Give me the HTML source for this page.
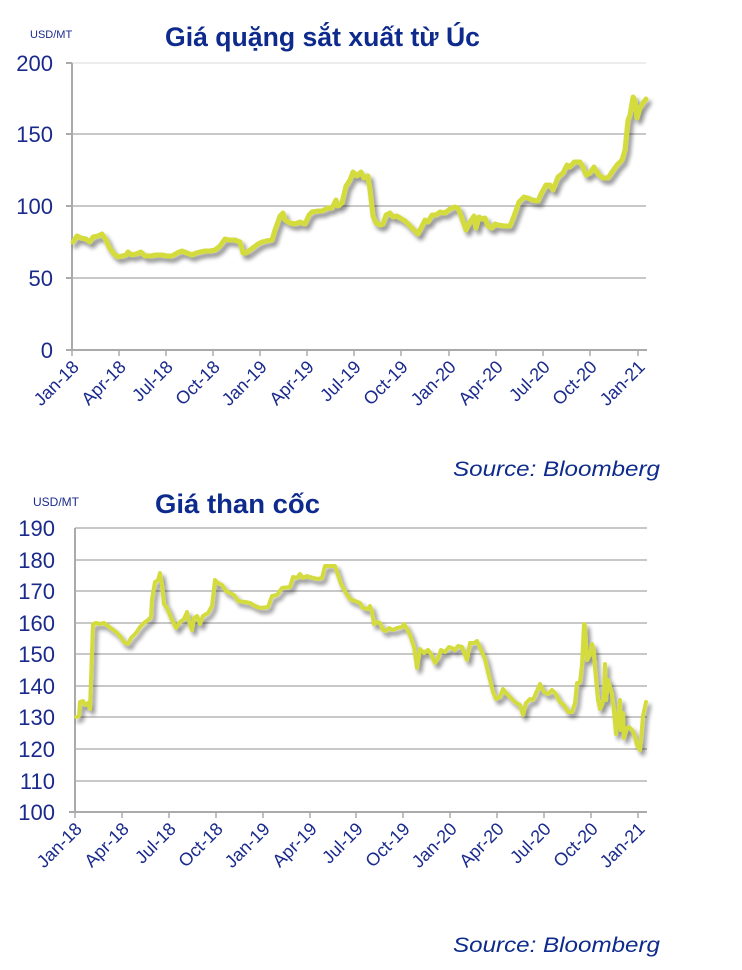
<!DOCTYPE html>
<html><head><meta charset="utf-8"><style>
html,body{margin:0;padding:0;background:#fff;width:742px;height:970px;overflow:hidden}
svg{display:block}
</style></head><body>
<svg width="742" height="970" xmlns="http://www.w3.org/2000/svg" font-family="Liberation Sans, sans-serif">
<defs>
<filter id="sh" x="-5%" y="-5%" width="110%" height="120%">
<feGaussianBlur in="SourceAlpha" stdDeviation="2"/>
<feOffset dx="3" dy="4" result="b"/>
<feComponentTransfer><feFuncA type="linear" slope="0.45"/></feComponentTransfer>
<feMerge><feMergeNode/><feMergeNode in="SourceGraphic"/></feMerge>
</filter>
</defs>
<!-- Chart 1 -->
<text x="30" y="38" font-size="11" fill="#1a2a8c">USD/MT</text>
<text x="165" y="46" font-size="27" font-weight="bold" fill="#0d2a8c" textLength="315" lengthAdjust="spacingAndGlyphs">Giá quặng sắt xuất từ Úc</text>
<g stroke="#e6e6e6" stroke-width="1.5"><line x1="72" y1="63" x2="646" y2="63"/></g>
<g stroke="#b5b5b5" stroke-width="1.5">
<line x1="72" y1="134" x2="646" y2="134"/><line x1="72" y1="206" x2="646" y2="206"/><line x1="72" y1="278" x2="646" y2="278"/>
</g>
<g stroke="#aaa" stroke-width="2">
<line x1="72" y1="63" x2="72" y2="350"/><line x1="66" y1="350" x2="647" y2="350"/>
<line x1="66" y1="63" x2="72" y2="63"/><line x1="66" y1="134" x2="72" y2="134"/><line x1="66" y1="206" x2="72" y2="206"/><line x1="66" y1="278" x2="72" y2="278"/>
</g>
<g stroke="#aaa" stroke-width="1.5">
<line x1="72" y1="350" x2="72" y2="356"/><line x1="119" y1="350" x2="119" y2="356"/><line x1="166" y1="350" x2="166" y2="356"/><line x1="213" y1="350" x2="213" y2="356"/><line x1="260" y1="350" x2="260" y2="356"/><line x1="307" y1="350" x2="307" y2="356"/><line x1="354" y1="350" x2="354" y2="356"/><line x1="401" y1="350" x2="401" y2="356"/><line x1="449" y1="350" x2="449" y2="356"/><line x1="496" y1="350" x2="496" y2="356"/><line x1="543" y1="350" x2="543" y2="356"/><line x1="590" y1="350" x2="590" y2="356"/><line x1="638" y1="350" x2="638" y2="356"/>
</g>
<g font-size="22" fill="#1a2a8c" text-anchor="end">
<text x="53" y="71">200</text><text x="53" y="142">150</text><text x="53" y="214">100</text><text x="53" y="286">50</text><text x="53" y="358">0</text>
</g>
<g font-size="18" fill="#1a2a8c" text-anchor="end">
<text transform="translate(80,368) rotate(-45)">Jan-18</text>
<text transform="translate(127,368) rotate(-45)">Apr-18</text>
<text transform="translate(174,368) rotate(-45)">Jul-18</text>
<text transform="translate(221,368) rotate(-45)">Oct-18</text>
<text transform="translate(268,368) rotate(-45)">Jan-19</text>
<text transform="translate(315,368) rotate(-45)">Apr-19</text>
<text transform="translate(362,368) rotate(-45)">Jul-19</text>
<text transform="translate(409,368) rotate(-45)">Oct-19</text>
<text transform="translate(457,368) rotate(-45)">Jan-20</text>
<text transform="translate(504,368) rotate(-45)">Apr-20</text>
<text transform="translate(551,368) rotate(-45)">Jul-20</text>
<text transform="translate(598,368) rotate(-45)">Oct-20</text>
<text transform="translate(646,368) rotate(-45)">Jan-21</text>
</g>
<polyline filter="url(#sh)" fill="none" stroke="#d4dc3c" stroke-width="5" stroke-linejoin="round" stroke-linecap="round" points="73,242 77,236 81,238 86,239 90,242 93,237 98,236 102,234 106,240 109,247 114,254 118,257 122,256 126,255 128,252 132,255 136,254 141,252 145,256 150,256 156,255 162,255 167,256 172,256 177,253 182,251 187,253 192,255 196,253 200,252 205,251 210,251 215,250 220,246 225,239 229,240 235,240 240,242 243,253 246,253 250,250 254,247 258,244 262,242 266,241 272,240 275,230 280,216 283,213 285,220 290,223 295,224 300,222 305,224 309,215 312,212 318,211 322,211 328,208 332,208 336,200 338,206 342,203 346,186 350,180 353,172 357,176 361,172 364,178 368,176 370,190 373,216 376,223 380,225 383,224 386,215 390,213 393,217 397,216 400,218 405,221 410,226 413,229 418,234 421,228 425,220 428,222 432,215 436,215 440,212 445,213 450,209 455,207 458,208 460,213 466,230 470,222 474,216 476,228 479,217 482,219 485,218 488,226 492,228 495,224 498,225 504,226 510,226 514,216 519,202 524,197 528,198 532,200 538,201 541,194 546,185 550,185 553,190 558,177 563,173 567,165 570,167 574,162 580,162 583,167 586,175 590,173 594,167 598,174 603,178 608,178 612,172 617,165 622,160 625,150 628,120 630,115 633,97 635,100 637,118 640,108 643,103 646,99"/>
<text x="453" y="476" font-size="21" font-style="italic" fill="#0d2a8c" textLength="207" lengthAdjust="spacingAndGlyphs">Source: Bloomberg</text>

<!-- Chart 2 -->
<text x="33" y="506" font-size="12" fill="#1a2a8c">USD/MT</text>
<text x="155" y="513" font-size="27" font-weight="bold" fill="#0d2a8c" textLength="165" lengthAdjust="spacingAndGlyphs">Giá than cốc</text>
<g stroke="#b5b5b5" stroke-width="1.5">
<line x1="75" y1="528" x2="647" y2="528"/><line x1="75" y1="560" x2="647" y2="560"/><line x1="75" y1="591" x2="647" y2="591"/><line x1="75" y1="623" x2="647" y2="623"/><line x1="75" y1="654" x2="647" y2="654"/><line x1="75" y1="686" x2="647" y2="686"/><line x1="75" y1="717" x2="647" y2="717"/><line x1="75" y1="749" x2="647" y2="749"/><line x1="75" y1="781" x2="647" y2="781"/>
</g>
<g stroke="#aaa" stroke-width="2">
<line x1="75" y1="528" x2="75" y2="812"/><line x1="69" y1="812" x2="647" y2="812"/>
</g>
<g stroke="#aaa" stroke-width="1.5">
<line x1="75" y1="812" x2="75" y2="818"/><line x1="122" y1="812" x2="122" y2="818"/><line x1="169" y1="812" x2="169" y2="818"/><line x1="216" y1="812" x2="216" y2="818"/><line x1="263" y1="812" x2="263" y2="818"/><line x1="310" y1="812" x2="310" y2="818"/><line x1="356" y1="812" x2="356" y2="818"/><line x1="403" y1="812" x2="403" y2="818"/><line x1="450" y1="812" x2="450" y2="818"/><line x1="497" y1="812" x2="497" y2="818"/><line x1="544" y1="812" x2="544" y2="818"/><line x1="591" y1="812" x2="591" y2="818"/><line x1="638" y1="812" x2="638" y2="818"/>
</g>
<g font-size="22" fill="#1a2a8c" text-anchor="end">
<text x="55" y="536">190</text><text x="55" y="568">180</text><text x="55" y="599">170</text><text x="55" y="631">160</text><text x="55" y="662">150</text><text x="55" y="694">140</text><text x="55" y="725">130</text><text x="55" y="757">120</text><text x="55" y="789">110</text><text x="55" y="820">100</text>
</g>
<g font-size="18" fill="#1a2a8c" text-anchor="end">
<text transform="translate(83,830) rotate(-45)">Jan-18</text>
<text transform="translate(130,830) rotate(-45)">Apr-18</text>
<text transform="translate(177,830) rotate(-45)">Jul-18</text>
<text transform="translate(224,830) rotate(-45)">Oct-18</text>
<text transform="translate(271,830) rotate(-45)">Jan-19</text>
<text transform="translate(318,830) rotate(-45)">Apr-19</text>
<text transform="translate(364,830) rotate(-45)">Jul-19</text>
<text transform="translate(411,830) rotate(-45)">Oct-19</text>
<text transform="translate(458,830) rotate(-45)">Jan-20</text>
<text transform="translate(505,830) rotate(-45)">Apr-20</text>
<text transform="translate(552,830) rotate(-45)">Jul-20</text>
<text transform="translate(599,830) rotate(-45)">Oct-20</text>
<text transform="translate(646,830) rotate(-45)">Jan-21</text>
</g>
<polyline filter="url(#sh)" fill="none" stroke="#d4dc3c" stroke-width="4" stroke-linejoin="round" stroke-linecap="round" points="76,717 79,716 80,702 83,701 85,705 88,703 90,709 91,680 93,624 96,623 100,624 104,623 108,626 112,629 116,632 120,636 124,642 128,644 131,638 136,633 140,627 144,623 148,620 151,617 152,599 155,582 158,580 160,573 162,585 164,604 167,608 172,620 176,628 180,622 184,619 187,612 190,625 192,630 194,618 197,616 200,624 203,616 208,613 212,606 215,580 218,583 222,585 226,591 230,593 234,595 238,601 245,602 250,603 255,606 260,608 268,607 272,596 277,595 282,588 290,587 293,577 297,578 300,574 303,578 307,576 310,577 313,578 318,579 322,578 325,566 330,566 335,566 337,572 341,584 346,593 350,599 355,601 360,603 363,608 368,609 370,606 372,612 374,624 377,622 380,623 383,630 386,631 389,628 393,630 397,628 402,627 404,624 407,629 410,635 414,647 417,668 420,649 424,653 428,650 431,654 435,663 438,658 441,650 445,652 449,647 452,648 455,650 458,646 462,647 465,655 467,660 470,643 474,643 477,641 481,650 485,659 488,672 493,692 496,699 500,697 503,689 507,694 511,698 515,702 518,704 520,705 523,715 526,703 530,699 533,700 536,693 540,684 544,692 548,694 552,690 555,693 560,702 564,705 568,712 572,712 575,703 577,683 580,682 582,665 584,624 585,626 587,660 590,655 592,644 594,652 595,668 598,700 600,709 602,705 604,695 605,664 606,700 608,680 612,694 614,712 616,734 618,717 620,700 621,730 623,713 624,738 627,728 629,727 632,730 634,734 637,745 640,750 643,716 646,702"/>
<text x="453" y="952" font-size="21" font-style="italic" fill="#0d2a8c" textLength="207" lengthAdjust="spacingAndGlyphs">Source: Bloomberg</text>
</svg>
</body></html>
